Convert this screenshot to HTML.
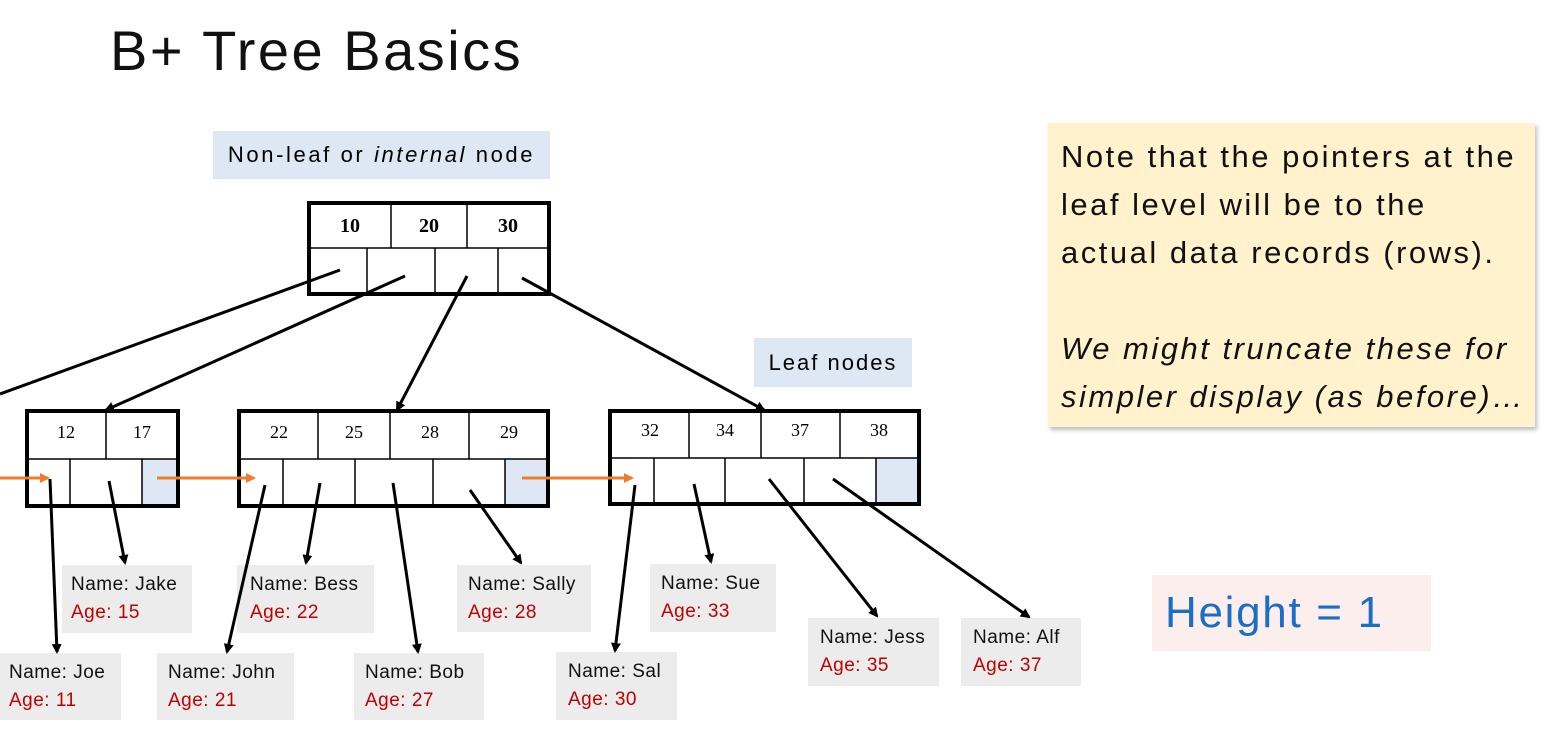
<!DOCTYPE html>
<html><head><meta charset="utf-8"><style>
body{margin:0;width:1565px;height:743px;background:#fff;position:relative;overflow:hidden;font-family:"Liberation Sans",sans-serif}
.a{position:absolute}
.rec{position:absolute;background:#ececec;font-size:19px;line-height:28px;padding:6px 0 0 9px;box-sizing:border-box;color:#111;letter-spacing:0.5px;white-space:nowrap}
.rec span{color:#c00000}
</style></head><body>
<div class="a" style="left:110px;top:18px;font-size:56px;color:#111;letter-spacing:2.5px">B+ Tree Basics</div>
<div class="a" style="left:213px;top:131px;width:337px;height:48px;background:#dde8f4;font-size:22px;line-height:48px;text-align:center;letter-spacing:2.6px;white-space:nowrap">Non-leaf or <i>internal</i> node</div>
<div class="a" style="left:754px;top:338px;width:158px;height:49px;background:#dde8f4;font-size:22px;line-height:49px;text-align:center;letter-spacing:2px">Leaf nodes</div>
<div class="a" style="left:1048px;top:123px;width:487px;height:304px;background:#fff2cc;box-shadow:2px 3px 4px rgba(0,0,0,.25);font-size:31px;line-height:48px;padding:10px 0 0 13px;box-sizing:border-box;color:#111;letter-spacing:2.5px;white-space:nowrap">Note that the pointers at the<br>leaf level will be to the<br>actual data records (rows).<br><br><i>We might truncate these for<br>simpler display (as before)…</i></div>
<div class="a" style="left:1152px;top:575px;width:279px;height:76px;background:#fbeeec;color:#1a6ec4;font-size:44px;line-height:76px;padding-left:13px;box-sizing:border-box;letter-spacing:1.7px;white-space:nowrap">Height = 1</div>

<div class="rec" style="left:62px;top:565px;width:130px;height:68px">Name: Jake<br><span>Age: 15</span></div>
<div class="rec" style="left:0;top:653px;width:121px;height:67px">Name: Joe<br><span>Age: 11</span></div>
<div class="rec" style="left:237px;top:565px;width:137px;height:68px;padding-left:13px">Name: Bess<br><span>Age: 22</span></div>
<div class="rec" style="left:157px;top:653px;width:137px;height:67px;padding-left:11px">Name: John<br><span>Age: 21</span></div>
<div class="rec" style="left:354px;top:653px;width:130px;height:67px;padding-left:11px">Name: Bob<br><span>Age: 27</span></div>
<div class="rec" style="left:457px;top:565px;width:134px;height:67px;padding-left:11px">Name: Sally<br><span>Age: 28</span></div>
<div class="rec" style="left:650px;top:564px;width:126px;height:68px;padding-left:11px">Name: Sue<br><span>Age: 33</span></div>
<div class="rec" style="left:556px;top:652px;width:121px;height:68px;padding-left:12px">Name: Sal<br><span>Age: 30</span></div>
<div class="rec" style="left:808px;top:618px;width:131px;height:68px;padding-left:12px">Name: Jess<br><span>Age: 35</span></div>
<div class="rec" style="left:961px;top:618px;width:120px;height:68px;padding-left:12px">Name: Alf<br><span>Age: 37</span></div>

<svg class="a" style="left:0;top:0" width="1565" height="743" font-family="Liberation Serif,serif">
<defs>
<marker id="k" markerWidth="10" markerHeight="10" refX="8" refY="5" orient="auto" markerUnits="userSpaceOnUse"><path d="M0,0 L10,5 L0,10 z" fill="#000"/></marker>
<marker id="o" markerWidth="10" markerHeight="10" refX="8" refY="5" orient="auto" markerUnits="userSpaceOnUse"><path d="M0,0 L10,5 L0,10 z" fill="#ed7d31"/></marker>
</defs>
<g stroke="#000" fill="none">
<rect x="309" y="203" width="240" height="91" stroke-width="4"/>
<line x1="309" y1="248" x2="549" y2="248" stroke-width="1.5"/>
<line x1="391" y1="203" x2="391" y2="248" stroke-width="1.5"/>
<line x1="467" y1="203" x2="467" y2="248" stroke-width="1.5"/>
<line x1="367" y1="248" x2="367" y2="294" stroke-width="1.5"/>
<line x1="435" y1="248" x2="435" y2="294" stroke-width="1.5"/>
<line x1="498" y1="248" x2="498" y2="294" stroke-width="1.5"/>
</g>
<g font-size="20" font-weight="bold" text-anchor="middle"><text x="350" y="232">10</text><text x="429" y="232">20</text><text x="508" y="232">30</text></g>
<rect x="142" y="459" width="36" height="47" fill="#dde8f4"/>
<g stroke="#000" fill="none">
<rect x="27" y="411" width="151" height="95" stroke-width="4"/>
<line x1="27" y1="459" x2="178" y2="459" stroke-width="1.5"/>
<line x1="106" y1="411" x2="106" y2="459" stroke-width="1.5"/>
<line x1="70" y1="459" x2="70" y2="506" stroke-width="1.5"/>
<line x1="142" y1="459" x2="142" y2="506" stroke-width="1.5"/>
</g>
<rect x="505" y="459" width="43" height="47" fill="#dde8f4"/>
<g stroke="#000" fill="none">
<rect x="239" y="411" width="309" height="95" stroke-width="4"/>
<line x1="239" y1="459" x2="548" y2="459" stroke-width="1.5"/>
<line x1="318" y1="411" x2="318" y2="459" stroke-width="1.5"/>
<line x1="390" y1="411" x2="390" y2="459" stroke-width="1.5"/>
<line x1="469" y1="411" x2="469" y2="459" stroke-width="1.5"/>
<line x1="283" y1="459" x2="283" y2="506" stroke-width="1.5"/>
<line x1="355" y1="459" x2="355" y2="506" stroke-width="1.5"/>
<line x1="433" y1="459" x2="433" y2="506" stroke-width="1.5"/>
<line x1="505" y1="459" x2="505" y2="506" stroke-width="1.5"/>
</g>
<rect x="876" y="458" width="43" height="46" fill="#dde8f4"/>
<g stroke="#000" fill="none">
<rect x="610" y="411" width="309" height="93" stroke-width="4"/>
<line x1="610" y1="458" x2="919" y2="458" stroke-width="1.5"/>
<line x1="689" y1="411" x2="689" y2="458" stroke-width="1.5"/>
<line x1="761" y1="411" x2="761" y2="458" stroke-width="1.5"/>
<line x1="840" y1="411" x2="840" y2="458" stroke-width="1.5"/>
<line x1="654" y1="458" x2="654" y2="504" stroke-width="1.5"/>
<line x1="725" y1="458" x2="725" y2="504" stroke-width="1.5"/>
<line x1="804" y1="458" x2="804" y2="504" stroke-width="1.5"/>
<line x1="876" y1="458" x2="876" y2="504" stroke-width="1.5"/>
</g>
<g font-size="18" text-anchor="middle">
<text x="66" y="438">12</text><text x="142" y="438">17</text>
<text x="279" y="438">22</text><text x="354" y="438">25</text><text x="430" y="438">28</text><text x="509" y="438">29</text>
<text x="650" y="436">32</text><text x="725" y="436">34</text><text x="800" y="436">37</text><text x="879" y="436">38</text>
</g>
<g stroke="#000" stroke-width="3">
<line x1="340" y1="270" x2="0" y2="394"/>
<line x1="405" y1="276" x2="106" y2="410" marker-end="url(#k)"/>
<line x1="467" y1="276" x2="397" y2="410" marker-end="url(#k)"/>
<line x1="522" y1="278" x2="764" y2="410" marker-end="url(#k)"/>
<line x1="50" y1="479" x2="57" y2="652" marker-end="url(#k)"/>
<line x1="109" y1="481" x2="125" y2="563" marker-end="url(#k)"/>
<line x1="265" y1="485" x2="227" y2="652" marker-end="url(#k)"/>
<line x1="320" y1="483" x2="306" y2="563" marker-end="url(#k)"/>
<line x1="393" y1="483" x2="418" y2="652" marker-end="url(#k)"/>
<line x1="470" y1="490" x2="521" y2="563" marker-end="url(#k)"/>
<line x1="635" y1="485" x2="615" y2="651" marker-end="url(#k)"/>
<line x1="694" y1="484" x2="711" y2="562" marker-end="url(#k)"/>
<line x1="769" y1="479" x2="877" y2="616" marker-end="url(#k)"/>
<line x1="833" y1="479" x2="1029" y2="617" marker-end="url(#k)"/>
</g>
<g stroke="#ed7d31" stroke-width="3">
<line x1="0" y1="478" x2="48" y2="478" marker-end="url(#o)"/>
<line x1="157" y1="478" x2="254" y2="478" marker-end="url(#o)"/>
<line x1="522" y1="478" x2="632" y2="478" marker-end="url(#o)"/>
</g>
</svg>
</body></html>
